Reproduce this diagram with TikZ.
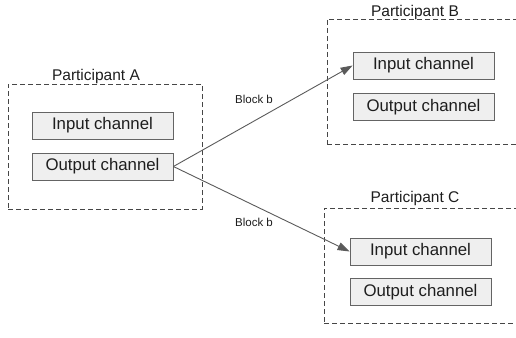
\documentclass[tikz,border=0pt]{standalone}
\usepackage{fontspec}
\setmainfont{Liberation Sans}
\definecolor{chanfill}{RGB}{239, 239, 239}
\definecolor{chanline}{RGB}{100, 100, 100}
\definecolor{flowgray}{RGB}{90, 90, 90}
\definecolor{partline}{RGB}{70, 70, 70}
\definecolor{labeltext}{RGB}{30, 30, 30}
\usetikzlibrary{arrows.meta, positioning}

\begin{document}
\begin{tikzpicture}[x=1pt, y=-1pt,
  chan/.style={draw=chanline, fill=chanfill, line width=0.8pt, minimum width=141pt, minimum height=27pt, inner sep=0pt, text=labeltext, font=\fontsize{16.8}{18}\selectfont},
  part/.style={draw=partline, dash pattern=on 5pt off 3pt, line width=0.9pt, inner sep=0pt},
  partlabel/.style={text=labeltext, font=\fontsize{15.5}{18}\selectfont},
  blocklabel/.style={text=labeltext, font=\fontsize{11.5}{14}\selectfont},
  flow/.style={draw=flowgray, line width=0.9pt, -{Triangle[length=12pt, width=8pt]}}]
  \useasboundingbox (0, 0) rectangle (516, 337);
  \clip (0, 0) rectangle (516, 337);

  % Participant A
  \node[part, minimum width=194pt, minimum height=125pt] (pa) at (105, 146.5) {};
  \node[partlabel] (palabel) at (96, 76) {Participant A};
  \node[chan] (ain) at (102.5, 125.5) {Input channel};
  \node[chan] (aout) at (102.5, 166.5) {Output channel};

  % Participant B
  \node[part, minimum width=213pt, minimum height=125pt] (pb) at (433.5, 81.5) {};
  \node[partlabel] (pblabel) at (415, 12) {Participant B};
  \node[chan] (bin) at (423.5, 65.5) {Input channel};
  \node[chan] (bout) at (423.5, 107) {Output channel};

  % Participant C
  \node[part, minimum width=216pt, minimum height=115pt] (pc) at (432, 265.5) {};
  \node[partlabel] (pclabel) at (415, 198) {Participant C};
  \node[chan] (cin) at (420.5, 251.5) {Input channel};
  \node[chan] (cout) at (420.5, 292) {Output channel};

  % Blocks sent out
  \draw[flow] (aout.east) -- (bin.west);
  \draw[flow] (aout.east) -- (cin.west);
  \node[blocklabel] (blockb) at (254, 99) {Block b};
  \node[blocklabel] (blockc) at (254, 222) {Block b};
\end{tikzpicture}
\end{document}
